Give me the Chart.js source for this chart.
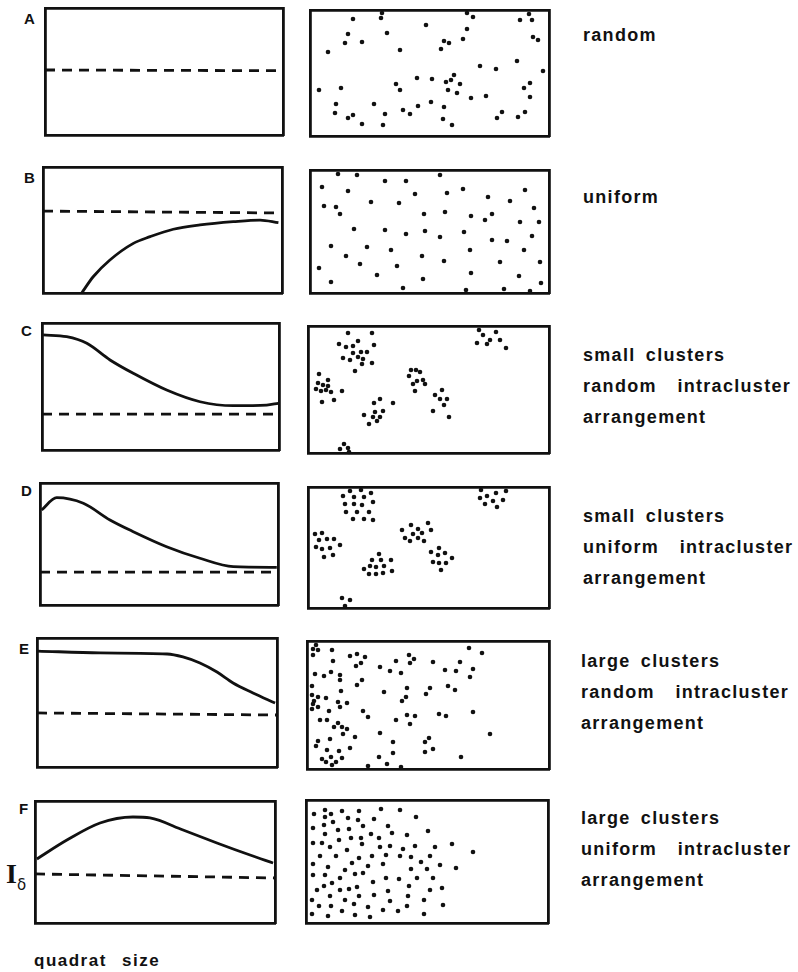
<!DOCTYPE html>
<html><head><meta charset="utf-8">
<script src="https://cdn.jsdelivr.net/npm/chart.js@4.4.0/dist/chart.umd.min.js"></script>
<style>
body{margin:0;background:#fff;width:798px;height:972px;position:relative;overflow:hidden;font-family:'Liberation Sans',Arial,sans-serif;color:#111;}
.pnl{position:absolute;}
.lbl{position:absolute;font-weight:bold;white-space:pre;line-height:1;}
.letter{font-size:15px;}
.desc{font-size:18px;letter-spacing:1.3px;word-spacing:4px;line-height:31px;}
</style></head><body>
<script>
// ---------- text ----------
const panelLetters = ['A','B','C','D','E','F'];
const descriptions = [
  ['random'],
  ['uniform'],
  ['small clusters','random  intracluster','arrangement'],
  ['small clusters','uniform  intracluster','arrangement'],
  ['large clusters','random  intracluster','arrangement'],
  ['large clusters','uniform  intracluster','arrangement']
];
const xAxisLabel = 'quadrat size';

// ---------- left panels: index vs quadrat size (0-100 scales) ----------
const curveBx = [16.2,21.0,28.0,37.8,44.8,54.5,65.7,79.6,90.8,98.5];
const curveBy = [0,12.9,26.2,39.4,44.7,50.6,54.0,56.6,57.9,55.8];
const curveCx = [0.5,10.4,18.9,28.7,38.5,52.6,66.7,80.7,94.8,99.7];
const curveCy = [90.6,89.2,84.0,70.9,60.4,47.2,38.0,34.9,35.4,36.8];
const curveDx = [0.7,7.0,18.2,29.4,39.2,53.2,67.2,81.2,99.5];
const curveDy = [77.9,88.0,83.4,69.7,60.1,47.8,38.3,31.4,30.9];
const curveEx = [0.4,26.3,54.2,60.8,67.9,75.0,81.7,90.0,99.2];
const curveEy = [89.9,88.4,87.6,85.3,80.6,73.6,65.1,57.4,49.6];
const curveFx = [0.8,13.3,27.1,40.8,47.9,61.7,75.8,89.6,99.2];
const curveFy = [52.5,68.0,82.0,86.9,86.1,76.2,65.6,55.7,49.2];
// dashed reference level (I-delta) at left and right end
const dashLevelStart = [51.2,65.0,28.3,27.0,41.9,40.2];
const dashLevelEnd   = [50.6,63.5,28.3,27.0,40.3,36.9];

// ---------- right panels: point patterns (field units) ----------
const fieldWidth  = [239,239,241,241,242,242];
const fieldHeight = [126,123,127,121,128,123];
const dotsAx = [72,43,71,157,163,210,219,222,116,38,77,157,35,52,134,139,153,223,228,18,90,131,207,170,186,233,107,122,136,141,144,150,86,90,138,147,9,31,220,214,220,161,176,26,64,121,108,93,134,25,43,38,75,100,52,73,133,142,187,192,208,215];
const dotsAy = [123,117,118,123,119,116,122,116,111,102,103,107,93,94,95,93,97,99,96,84,86,87,75,70,67,65,58,57,54,56,61,52,52,46,46,43,46,48,53,48,39,38,40,32,32,34,30,26,29,23,21,18,22,22,12,11,17,11,18,24,19,24];
const dotsBx = [28,47,130,12,75,96,38,105,137,153,215,178,200,14,26,30,61,89,114,135,161,182,175,210,229,224,44,75,96,115,130,154,182,197,222,21,57,81,160,214,36,50,87,112,134,190,230,9,21,67,113,161,209,231,93,156,194,220];
const dotsBy = [119,118,118,106,112,112,102,99,100,104,103,96,92,87,86,79,91,90,79,81,77,79,73,71,71,85,64,63,59,62,56,61,53,52,57,47,46,43,43,43,37,29,27,37,32,31,31,25,11,18,14,20,17,10,5,3,4,2];
const dotsCx = [40,64,31,38,45,50,66,45,53,59,35,42,50,55,54,64,47,171,175,188,182,192,169,179,198,11,10,15,20,8,13,18,23,20,34,26,14,103,108,112,101,109,115,117,105,107,134,127,132,139,136,125,141,72,66,85,67,75,56,65,72,69,61,36,32,40,41];
const dotsCy = [120,120,109,106,107,112,108,100,101,101,95,93,96,94,89,90,82,123,118,121,113,113,110,109,105,79,70,68,73,64,62,63,61,67,62,53,51,83,83,81,77,72,73,69,69,62,63,58,54,54,48,42,36,54,50,50,41,42,38,36,36,32,29,9,4,5,1];
const dotsDx = [42,53,63,35,46,56,37,46,54,65,38,49,61,45,56,65,173,179,188,198,172,185,195,177,189,7,14,11,19,26,8,14,22,32,16,25,103,120,94,110,123,105,114,97,102,110,116,131,123,137,130,144,125,131,138,133,71,64,73,83,62,68,76,56,61,68,75,84,34,42,37];
const dotsDy = [117,118,115,112,111,111,104,104,103,106,96,96,96,89,89,88,118,112,115,117,110,107,108,104,101,74,75,68,69,69,61,59,60,63,51,53,83,85,78,79,78,74,75,70,67,70,67,60,56,55,53,50,46,45,45,38,54,48,48,48,42,41,42,39,34,34,35,37,10,8,2];
const dotsEx = [9,6,11,6,25,26,43,50,58,49,54,102,107,103,89,73,83,94,126,153,162,175,138,149,166,163,8,17,24,33,33,5,55,50,141,148,123,119,100,99,95,77,34,5,11,19,7,6,31,40,33,11,5,22,56,61,13,20,31,27,35,40,36,48,73,89,100,108,103,132,139,166,183,11,9,23,20,32,43,86,86,118,122,126,118,15,19,24,29,35,25,72,61,80,94,154];
const dotsEy = [124,120,119,114,119,108,113,115,112,103,106,114,110,106,108,102,98,96,107,107,121,116,99,98,100,92,95,93,97,94,89,83,89,84,83,79,81,75,81,72,68,77,78,74,72,71,68,65,67,66,62,62,60,58,58,52,49,49,46,42,42,40,35,32,36,49,54,53,45,55,53,57,35,28,23,30,19,18,21,27,16,27,31,20,17,10,7,12,7,11,4,12,3,5,2,12];
const dotsFx = [8,19,25,36,53,75,94,19,27,42,52,68,110,7,18,32,43,57,82,86,122,19,33,45,55,65,73,101,7,16,24,41,56,74,84,97,109,129,146,14,30,53,66,80,94,105,124,167,7,22,39,46,62,77,115,134,150,7,19,34,49,57,105,121,67,80,93,111,127,11,18,26,34,43,51,82,103,124,136,24,53,68,102,6,39,84,118,13,25,48,62,101,137,6,22,36,49,64,77,92,118];
const dotsFy = [109,113,109,112,112,114,113,106,101,105,103,104,106,95,98,93,94,97,97,90,92,89,83,85,85,89,85,88,80,80,76,73,79,76,77,74,77,76,79,67,67,65,67,68,67,66,67,71,59,56,53,60,57,59,61,58,55,48,48,45,49,50,54,54,41,45,44,45,45,33,37,40,33,34,36,32,37,33,35,27,27,28,27,23,23,22,23,17,17,19,16,17,18,9,7,12,8,6,13,12,9];

// ---------- layout (pixels) ----------
const leftBoxes  = [[45,8,238,127],[43,167,239,126],[42,323,237,127],[40,483,238,122],[37,638,240,129],[35,801,240,122]];
const rightBoxes = [[310,10,239,126],[310,170,239,123],[308,326,241,127],[308,487,241,121],[307,641,242,128],[306,800,242,123]];
const letterPos = [[24,11],[24,170],[21,323],[21,483],[19,641],[19,801]];
const descPos = [[583,35],[583,197],[583,355],[583,516],[581,661],[581,818]];

const curvesX = [null,curveBx,curveCx,curveDx,curveEx,curveFx];
const curvesY = [null,curveBy,curveCy,curveDy,curveEy,curveFy];
const dotsX = [dotsAx,dotsBx,dotsCx,dotsDx,dotsEx,dotsFx];
const dotsY = [dotsAy,dotsBy,dotsCy,dotsDy,dotsEy,dotsFy];

const PAD = 4;
const INK = '#111';

function zip(xs, ys){ return xs.map((x,i)=>({x:x, y:ys[i]})); }

function boxScales(xmax, ymax){
  const b = {display:true, color:INK, width:2.8};
  const g = {display:true, drawTicks:false, drawOnChartArea:false, color:'rgba(0,0,0,0)'};
  const t = {display:false};
  return {
    x:{type:'linear',position:'bottom',min:0,max:xmax,border:b,grid:g,ticks:t},
    y:{type:'linear',position:'left',min:0,max:ymax,border:b,grid:g,ticks:t},
    x2:{type:'linear',position:'top',min:0,max:xmax,border:b,grid:g,ticks:t},
    y2:{type:'linear',position:'right',min:0,max:ymax,border:b,grid:g,ticks:t}
  };
}

function makeChart(box, type, datasets, scales){
  const [x,y,w,h] = box;
  const div = document.createElement('div');
  div.className = 'pnl';
  div.style.left = (x-PAD)+'px';
  div.style.top = (y-PAD)+'px';
  const cv = document.createElement('canvas');
  cv.width = w+2*PAD; cv.height = h+2*PAD;
  cv.style.width = (w+2*PAD)+'px'; cv.style.height = (h+2*PAD)+'px';
  div.appendChild(cv);
  document.body.appendChild(div);
  new Chart(cv, {
    type: type,
    data: {datasets: datasets},
    options: {
      responsive:false, animation:false, devicePixelRatio:1,
      layout:{padding:PAD},
      plugins:{legend:{display:false}, tooltip:{enabled:false}, title:{display:false}},
      scales: scales
    }
  });
}

for (let i=0;i<6;i++){
  // left: index curve + dashed reference level
  const ds = [{
    data:[{x:0,y:dashLevelStart[i]},{x:100,y:dashLevelEnd[i]}],
    borderColor:INK, borderWidth:2.8, borderDash:[10,7], pointRadius:0, fill:false
  }];
  if (curvesX[i]) ds.push({
    data: zip(curvesX[i], curvesY[i]),
    borderColor:INK, borderWidth:2.8, pointRadius:0, fill:false,
    cubicInterpolationMode:'monotone'
  });
  makeChart(leftBoxes[i], 'line', ds, boxScales(100,100));

  // right: dot pattern
  makeChart(rightBoxes[i], 'scatter', [{
    data: zip(dotsX[i], dotsY[i]),
    backgroundColor:INK, borderWidth:0, pointRadius:2.3, clip:false
  }], boxScales(fieldWidth[i], fieldHeight[i]));

  // letters
  const L = document.createElement('div');
  L.className = 'lbl letter';
  L.style.left = letterPos[i][0]+'px'; L.style.top = letterPos[i][1]+'px';
  L.textContent = panelLetters[i];
  document.body.appendChild(L);

  // descriptions
  const D = document.createElement('div');
  D.className = 'lbl desc';
  D.style.left = descPos[i][0]+'px'; D.style.top = (descPos[i][1]-15.5)+'px';
  D.textContent = descriptions[i].join('\n');
  document.body.appendChild(D);
}

// I-delta label and x axis label
const idl = document.createElement('div');
idl.className = 'lbl';
idl.style.left = '6px'; idl.style.top = '860px';
idl.innerHTML = '<span style="font-family:\'Liberation Serif\',serif;font-size:28px;font-weight:bold;">I</span><span style="font-family:\'DejaVu Sans\',sans-serif;font-size:15px;font-weight:normal;position:relative;top:7px;">δ</span>';
document.body.appendChild(idl);

const ql = document.createElement('div');
ql.className = 'lbl';
ql.style.left = '34px'; ql.style.top = '952px';
ql.style.fontSize = '17px'; ql.style.letterSpacing = '1.5px'; ql.style.wordSpacing = '9px';
ql.textContent = xAxisLabel;
document.body.appendChild(ql);
</script>
</body></html>
